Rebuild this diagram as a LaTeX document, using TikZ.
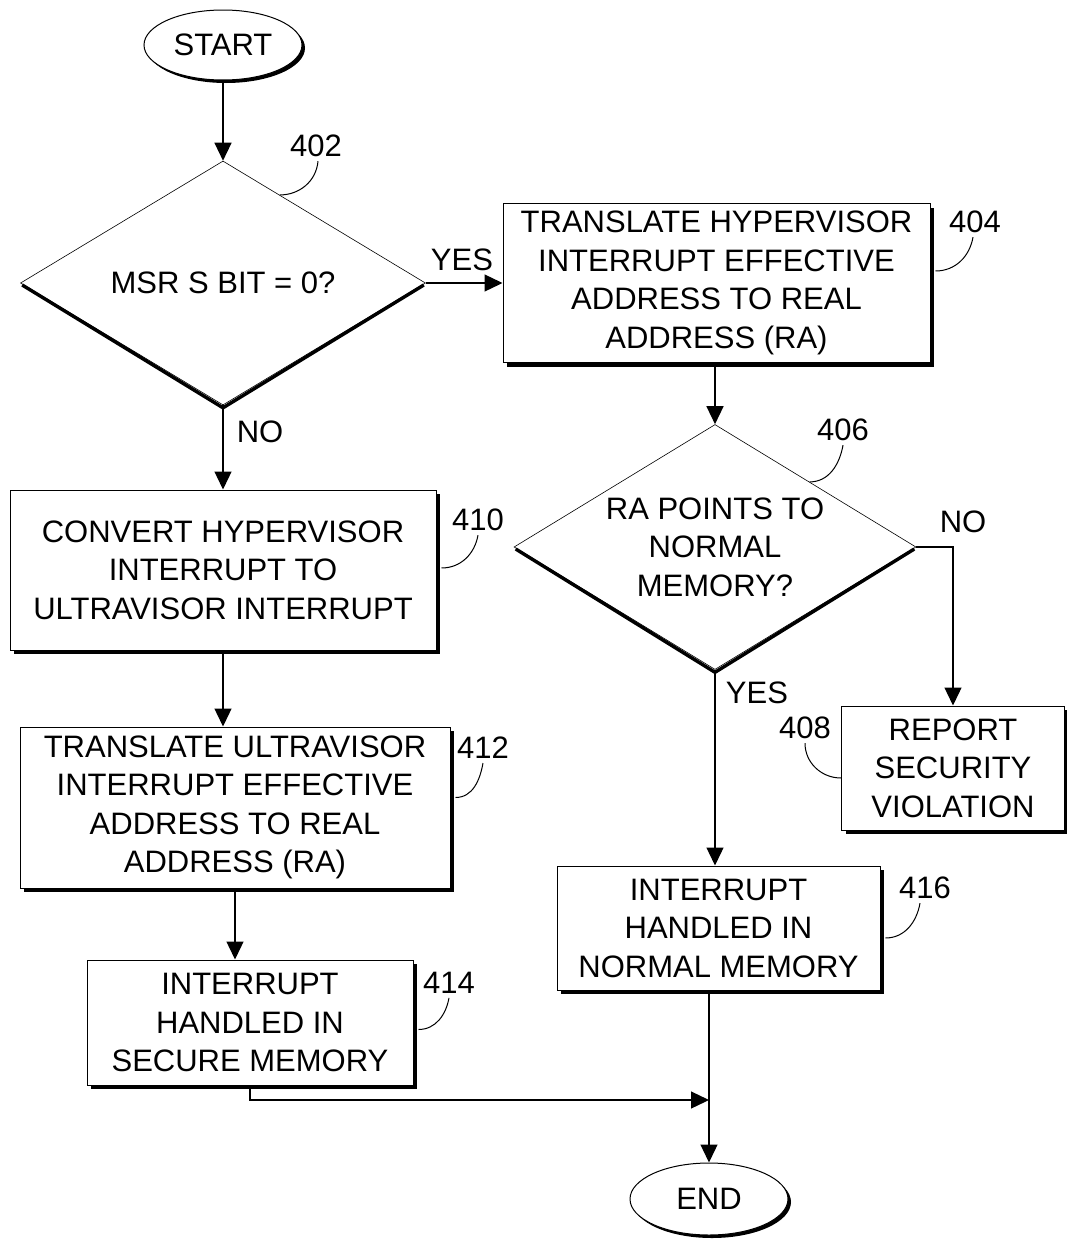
\documentclass[tikz,border=0pt]{standalone}
\usepackage{fontspec}
\setmainfont{Liberation Sans}
\usetikzlibrary{shapes.geometric,shadows,arrows.meta,calc}
\begin{document}
\begin{tikzpicture}[x=1pt,y=1pt,
  every node/.style={font=\fontsize{31}{38.5}\selectfont},
  box/.style={draw, line width=1pt, fill=white, inner sep=0pt, align=center,
    drop shadow={shadow xshift=4pt, shadow yshift=-4pt, opacity=1, fill=black}},
  dia/.style={diamond, aspect=1.65, draw, line width=0.6pt, fill=white, inner sep=0pt, align=center},
  term/.style={ellipse, draw, line width=1pt, fill=white, inner sep=0pt,
    drop shadow={shadow xshift=3pt, shadow yshift=-3pt, opacity=1, fill=black}},
  conn/.style={line width=1.3pt, -{Triangle[length=18pt,width=17pt]}},
  lead/.style={line width=1pt},
  dshadow/.style={line width=3.4pt},
  plain/.style={inner sep=0pt}
]
\useasboundingbox (0,0) rectangle (1067,-1245);

% terminals, decisions, boxes
\node[term, minimum width=158pt, minimum height=70pt] (start) at (223,-45) {START};
\node[dia, minimum width=405pt, minimum height=244pt] (d402) at (223,-283) {MSR S BIT = 0?};
\node[box, minimum width=427pt, minimum height=159pt] (b404) at (716.5,-283) {TRANSLATE HYPERVISOR\\INTERRUPT EFFECTIVE\\ADDRESS TO REAL\\ADDRESS (RA)};
\node[dia, minimum width=402pt, minimum height=245pt] (d406) at (715,-547) {RA POINTS TO\\NORMAL\\MEMORY?};
\node[box, minimum width=223pt, minimum height=124pt] (b408) at (953,-768) {REPORT\\SECURITY\\VIOLATION};
\node[box, minimum width=426pt, minimum height=160pt] (b410) at (223,-570) {CONVERT HYPERVISOR\\INTERRUPT TO\\ULTRAVISOR INTERRUPT};
\node[box, minimum width=430pt, minimum height=161pt] (b412) at (235,-807.5) {TRANSLATE ULTRAVISOR\\INTERRUPT EFFECTIVE\\ADDRESS TO REAL\\ADDRESS (RA)};
\node[box, minimum width=326pt, minimum height=125pt] (b414) at (250,-1022.5) {INTERRUPT\\HANDLED IN\\SECURE MEMORY};
\node[box, minimum width=323pt, minimum height=124pt] (b416) at (718.5,-928) {INTERRUPT\\HANDLED IN\\NORMAL MEMORY};
\node[term, minimum width=158pt, minimum height=72pt] (end) at (709,-1199) {END};

% diamond shadows
\draw[dshadow] ([shift={(2,-2)}]d402.west) -- ([yshift=-2.5pt]d402.south) -- ([shift={(-2,-2)}]d402.east);
\draw[dshadow] ([shift={(2,-2)}]d406.west) -- ([yshift=-2.5pt]d406.south) -- ([shift={(-2,-2)}]d406.east);

% reference numerals
\node[plain] (l402) at (316,-146) {402};
\node[plain] (l404) at (975,-222) {404};
\node[plain] (l406) at (843,-430) {406};
\node[plain] (l408) at (805,-728) {408};
\node[plain] (l410) at (478,-520) {410};
\node[plain] (l412) at (483,-748) {412};
\node[plain] (l414) at (449,-983) {414};
\node[plain] (l416) at (925,-888) {416};

% branch labels
\node[plain] (yes1) at (462,-260) {YES};
\node[plain] (no1) at (260,-432) {NO};
\node[plain] (no2) at (963,-522) {NO};
\node[plain] (yes2) at (757,-693) {YES};

% leaders
\draw[lead] ([xshift=2pt,yshift=-4pt]l402.south) to[out=-95,in=0] ($(d402.north)!0.28!(d402.east)$);
\draw[lead] ([xshift=-2pt,yshift=-4pt]l404.south) to[out=-100,in=0] ([shift={(5,12)}]b404.east);
\draw[lead] ([yshift=-4pt]l406.south) to[out=-100,in=0] ($(d406.north)!0.47!(d406.east)$);
\draw[lead] ([yshift=-4pt]l408.south) to[out=-90,in=180] ([yshift=-10pt]b408.west);
\draw[lead] ([yshift=-4pt]l410.south) to[out=-100,in=0] ([shift={(5,2)}]b410.east);
\draw[lead] ([yshift=-4pt]l412.south) to[out=-100,in=0] ([shift={(5,10)}]b412.east);
\draw[lead] ([yshift=-4pt]l414.south) to[out=-100,in=0] ([shift={(5,-7)}]b414.east);
\draw[lead] ([xshift=-5pt,yshift=-4pt]l416.south) to[out=-100,in=0] ([shift={(5,-10)}]b416.east);

% connectors
\coordinate (j) at (709,-1100);
\draw[conn] (start.south) -- (d402.north);
\draw[conn] (d402.east) -- (b404.west);
\draw[conn] (d402.south) -- (d402.south |- b410.north);
\draw[conn] (d406.north |- b404.south) -- (d406.north);
\draw[conn] (d406.east) -| (b408.north);
\draw[conn] (d406.south) -- (d406.south |- b416.north);
\draw[conn] (b410.south) -- (b410.south |- b412.north);
\draw[conn] (b412.south) -- (b412.south |- b414.north);
\draw[conn] (end.north |- b416.south) -- (end.north);
\draw[conn] (b414.south) |- (j);
\end{tikzpicture}
\end{document}
